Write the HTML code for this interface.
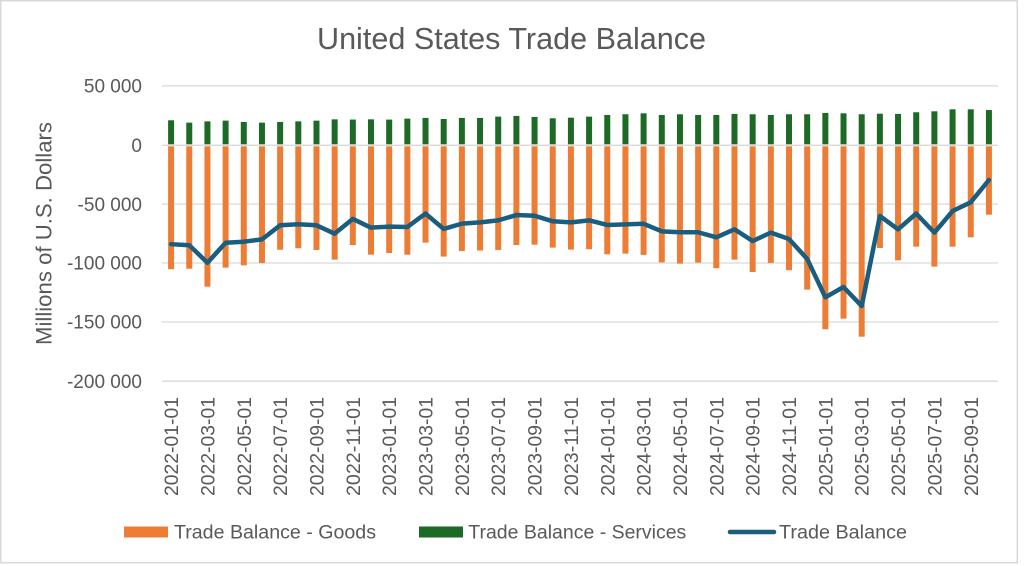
<!DOCTYPE html>
<html><head><meta charset="utf-8"><style>
html,body{margin:0;padding:0;background:#fff;}
svg{display:block;}
text{font-family:"Liberation Sans",sans-serif;fill:#595959;}
</style></head><body>
<svg width="1024" height="566" viewBox="0 0 1024 566" xmlns="http://www.w3.org/2000/svg">
<rect x="0" y="0" width="1024" height="566" fill="#fff"/>
<rect x="0.75" y="0.75" width="1016.5" height="562" fill="#fff" stroke="#d9d9d9" stroke-width="1.5"/>
<text x="511.5" y="49" font-size="31" text-anchor="middle" textLength="389" lengthAdjust="spacingAndGlyphs">United States Trade Balance</text>
<g stroke="#d9d9d9" stroke-width="1.3">
<line x1="162" y1="85.9" x2="998" y2="85.9"/>
<line x1="162" y1="145.3" x2="998" y2="145.3"/>
<line x1="162" y1="204.1" x2="998" y2="204.1"/>
<line x1="162" y1="263" x2="998" y2="263"/>
<line x1="162" y1="322" x2="998" y2="322"/>
<line x1="162" y1="381.2" x2="998" y2="381.2"/>
</g>
<g font-size="19" text-anchor="end">
<text x="142" y="92.6">50 000</text>
<text x="142" y="152">0</text>
<text x="142" y="210.8">-50 000</text>
<text x="142" y="269.7">-100 000</text>
<text x="142" y="328.7">-150 000</text>
<text x="142" y="387.9">-200 000</text>
</g>
<text transform="translate(51.7 233.5) rotate(-90)" font-size="22" text-anchor="middle" textLength="223" lengthAdjust="spacingAndGlyphs">Millions of U.S. Dollars</text>
<g transform="translate(171.09 145.3) scale(18.174 -1.18)">
<g fill="#1c6a25">
<rect x="-0.165" y="0.85" width="0.33" height="20.35"/>
<rect x="0.835" y="0.85" width="0.33" height="18.35"/>
<rect x="1.835" y="0.85" width="0.33" height="19.45"/>
<rect x="2.835" y="0.85" width="0.33" height="20.05"/>
<rect x="3.835" y="0.85" width="0.33" height="18.95"/>
<rect x="4.835" y="0.85" width="0.33" height="18.35"/>
<rect x="5.835" y="0.85" width="0.33" height="18.95"/>
<rect x="6.835" y="0.85" width="0.33" height="19.45"/>
<rect x="7.835" y="0.85" width="0.33" height="20.05"/>
<rect x="8.835" y="0.85" width="0.33" height="21.15"/>
<rect x="9.835" y="0.85" width="0.33" height="20.95"/>
<rect x="10.835" y="0.85" width="0.33" height="21.15"/>
<rect x="11.835" y="0.85" width="0.33" height="20.95"/>
<rect x="12.835" y="0.85" width="0.33" height="21.75"/>
<rect x="13.835" y="0.85" width="0.33" height="22.35"/>
<rect x="14.835" y="0.85" width="0.33" height="21.45"/>
<rect x="15.835" y="0.85" width="0.33" height="22.35"/>
<rect x="16.835" y="0.85" width="0.33" height="22.35"/>
<rect x="17.835" y="0.85" width="0.33" height="23.45"/>
<rect x="18.835" y="0.85" width="0.33" height="24.05"/>
<rect x="19.835" y="0.85" width="0.33" height="23.15"/>
<rect x="20.835" y="0.85" width="0.33" height="22.05"/>
<rect x="21.835" y="0.85" width="0.33" height="22.55"/>
<rect x="22.835" y="0.85" width="0.33" height="23.45"/>
<rect x="23.835" y="0.85" width="0.33" height="24.85"/>
<rect x="24.835" y="0.85" width="0.33" height="25.45"/>
<rect x="25.835" y="0.85" width="0.33" height="26.25"/>
<rect x="26.835" y="0.85" width="0.33" height="24.85"/>
<rect x="27.835" y="0.85" width="0.33" height="25.45"/>
<rect x="28.835" y="0.85" width="0.33" height="24.85"/>
<rect x="29.835" y="0.85" width="0.33" height="24.85"/>
<rect x="30.835" y="0.85" width="0.33" height="25.75"/>
<rect x="31.835" y="0.85" width="0.33" height="25.45"/>
<rect x="32.835" y="0.85" width="0.33" height="24.85"/>
<rect x="33.835" y="0.85" width="0.33" height="25.45"/>
<rect x="34.835" y="0.85" width="0.33" height="25.45"/>
<rect x="35.835" y="0.85" width="0.33" height="26.55"/>
<rect x="36.835" y="0.85" width="0.33" height="26.25"/>
<rect x="37.835" y="0.85" width="0.33" height="25.45"/>
<rect x="38.835" y="0.85" width="0.33" height="25.95"/>
<rect x="39.835" y="0.85" width="0.33" height="25.75"/>
<rect x="40.835" y="0.85" width="0.33" height="27.15"/>
<rect x="41.835" y="0.85" width="0.33" height="27.95"/>
<rect x="42.835" y="0.85" width="0.33" height="29.65"/>
<rect x="43.835" y="0.85" width="0.33" height="29.65"/>
<rect x="44.835" y="0.85" width="0.33" height="29.05"/>
</g>
<g fill="#ed7d35">
<rect x="-0.165" y="-105" width="0.33" height="104.15"/>
<rect x="0.835" y="-104.6" width="0.33" height="103.75"/>
<rect x="1.835" y="-119.8" width="0.33" height="118.95"/>
<rect x="2.835" y="-103.7" width="0.33" height="102.85"/>
<rect x="3.835" y="-101.7" width="0.33" height="100.85"/>
<rect x="4.835" y="-99.8" width="0.33" height="98.95"/>
<rect x="5.835" y="-88.5" width="0.33" height="87.65"/>
<rect x="6.835" y="-87.3" width="0.33" height="86.45"/>
<rect x="7.835" y="-88.7" width="0.33" height="87.85"/>
<rect x="8.835" y="-96.9" width="0.33" height="96.05"/>
<rect x="9.835" y="-84.5" width="0.33" height="83.65"/>
<rect x="10.835" y="-92.7" width="0.33" height="91.85"/>
<rect x="11.835" y="-91.3" width="0.33" height="90.45"/>
<rect x="12.835" y="-92.7" width="0.33" height="91.85"/>
<rect x="13.835" y="-82.5" width="0.33" height="81.65"/>
<rect x="14.835" y="-94.3" width="0.33" height="93.45"/>
<rect x="15.835" y="-89.6" width="0.33" height="88.75"/>
<rect x="16.835" y="-89.2" width="0.33" height="88.35"/>
<rect x="17.835" y="-88.7" width="0.33" height="87.85"/>
<rect x="18.835" y="-84.5" width="0.33" height="83.65"/>
<rect x="19.835" y="-84.2" width="0.33" height="83.35"/>
<rect x="20.835" y="-86.7" width="0.33" height="85.85"/>
<rect x="21.835" y="-88.4" width="0.33" height="87.55"/>
<rect x="22.835" y="-88.1" width="0.33" height="87.25"/>
<rect x="23.835" y="-92.4" width="0.33" height="91.55"/>
<rect x="24.835" y="-91.8" width="0.33" height="90.95"/>
<rect x="25.835" y="-92.9" width="0.33" height="92.05"/>
<rect x="26.835" y="-99.2" width="0.33" height="98.35"/>
<rect x="27.835" y="-100.3" width="0.33" height="99.45"/>
<rect x="28.835" y="-99.4" width="0.33" height="98.55"/>
<rect x="29.835" y="-104.2" width="0.33" height="103.35"/>
<rect x="30.835" y="-96.9" width="0.33" height="96.05"/>
<rect x="31.835" y="-107.4" width="0.33" height="106.55"/>
<rect x="32.835" y="-99.7" width="0.33" height="98.85"/>
<rect x="33.835" y="-105.9" width="0.33" height="105.05"/>
<rect x="34.835" y="-122.3" width="0.33" height="121.45"/>
<rect x="35.835" y="-155.9" width="0.33" height="155.05"/>
<rect x="36.835" y="-146.9" width="0.33" height="146.05"/>
<rect x="37.835" y="-162.2" width="0.33" height="161.35"/>
<rect x="38.835" y="-87" width="0.33" height="86.15"/>
<rect x="39.835" y="-97.5" width="0.33" height="96.65"/>
<rect x="40.835" y="-85.9" width="0.33" height="85.05"/>
<rect x="41.835" y="-102.8" width="0.33" height="101.95"/>
<rect x="42.835" y="-85.9" width="0.33" height="85.05"/>
<rect x="43.835" y="-78" width="0.33" height="77.15"/>
<rect x="44.835" y="-58.8" width="0.33" height="57.95"/>
</g>
<polyline fill="none" stroke="#1a5e7f" stroke-width="4.5" stroke-linejoin="round" stroke-linecap="round" vector-effect="non-scaling-stroke"
points="0,-83.8 1,-84.7 2,-99.5 3,-82.6 4,-81.7 5,-79.7 6,-67.8 7,-66.9 8,-67.8 9,-74.9 10,-62.4 11,-69.8 12,-68.9 13,-69.2 14,-57.9 15,-70.9 16,-66.4 17,-65.3 18,-63.6 19,-59.1 20,-59.7 21,-64.4 22,-65.3 23,-63.6 24,-67.5 25,-67 26,-66.5 27,-72.9 28,-73.7 29,-73.7 30,-78 31,-71.2 32,-81.1 33,-74 34,-79.4 35,-96.3 36,-128.8 37,-120.1 38,-136.2 39,-59.9 40,-71.2 41,-57.9 42,-74 43,-55.7 44,-48.3 45,-29.4"/>
</g>
<g font-size="19" text-anchor="end">
<text transform="translate(178.1 397) rotate(-90)" textLength="99" lengthAdjust="spacingAndGlyphs">2022-01-01</text>
<text transform="translate(214.4 397) rotate(-90)" textLength="99" lengthAdjust="spacingAndGlyphs">2022-03-01</text>
<text transform="translate(250.8 397) rotate(-90)" textLength="99" lengthAdjust="spacingAndGlyphs">2022-05-01</text>
<text transform="translate(287.1 397) rotate(-90)" textLength="99" lengthAdjust="spacingAndGlyphs">2022-07-01</text>
<text transform="translate(323.5 397) rotate(-90)" textLength="99" lengthAdjust="spacingAndGlyphs">2022-09-01</text>
<text transform="translate(359.8 397) rotate(-90)" textLength="99" lengthAdjust="spacingAndGlyphs">2022-11-01</text>
<text transform="translate(396.2 397) rotate(-90)" textLength="99" lengthAdjust="spacingAndGlyphs">2023-01-01</text>
<text transform="translate(432.5 397) rotate(-90)" textLength="99" lengthAdjust="spacingAndGlyphs">2023-03-01</text>
<text transform="translate(468.9 397) rotate(-90)" textLength="99" lengthAdjust="spacingAndGlyphs">2023-05-01</text>
<text transform="translate(505.2 397) rotate(-90)" textLength="99" lengthAdjust="spacingAndGlyphs">2023-07-01</text>
<text transform="translate(541.6 397) rotate(-90)" textLength="99" lengthAdjust="spacingAndGlyphs">2023-09-01</text>
<text transform="translate(577.9 397) rotate(-90)" textLength="99" lengthAdjust="spacingAndGlyphs">2023-11-01</text>
<text transform="translate(614.3 397) rotate(-90)" textLength="99" lengthAdjust="spacingAndGlyphs">2024-01-01</text>
<text transform="translate(650.6 397) rotate(-90)" textLength="99" lengthAdjust="spacingAndGlyphs">2024-03-01</text>
<text transform="translate(687 397) rotate(-90)" textLength="99" lengthAdjust="spacingAndGlyphs">2024-05-01</text>
<text transform="translate(723.3 397) rotate(-90)" textLength="99" lengthAdjust="spacingAndGlyphs">2024-07-01</text>
<text transform="translate(759.7 397) rotate(-90)" textLength="99" lengthAdjust="spacingAndGlyphs">2024-09-01</text>
<text transform="translate(796 397) rotate(-90)" textLength="99" lengthAdjust="spacingAndGlyphs">2024-11-01</text>
<text transform="translate(832.4 397) rotate(-90)" textLength="99" lengthAdjust="spacingAndGlyphs">2025-01-01</text>
<text transform="translate(868.7 397) rotate(-90)" textLength="99" lengthAdjust="spacingAndGlyphs">2025-03-01</text>
<text transform="translate(905.1 397) rotate(-90)" textLength="99" lengthAdjust="spacingAndGlyphs">2025-05-01</text>
<text transform="translate(941.4 397) rotate(-90)" textLength="99" lengthAdjust="spacingAndGlyphs">2025-07-01</text>
<text transform="translate(977.8 397) rotate(-90)" textLength="99" lengthAdjust="spacingAndGlyphs">2025-09-01</text>
</g>
<rect x="124" y="526.5" width="44" height="11" fill="#ed7d35"/>
<text x="174" y="538.3" font-size="19" textLength="202" lengthAdjust="spacingAndGlyphs">Trade Balance - Goods</text>
<rect x="419" y="526.5" width="44" height="11" fill="#1c6a25"/>
<text x="468.3" y="538.3" font-size="19" textLength="218" lengthAdjust="spacingAndGlyphs">Trade Balance - Services</text>
<line x1="730" y1="532" x2="774" y2="532" stroke="#1a5e7f" stroke-width="4.5" stroke-linecap="round"/>
<text x="779" y="538.3" font-size="19" textLength="128" lengthAdjust="spacingAndGlyphs">Trade Balance</text>
</svg>
</body></html>
